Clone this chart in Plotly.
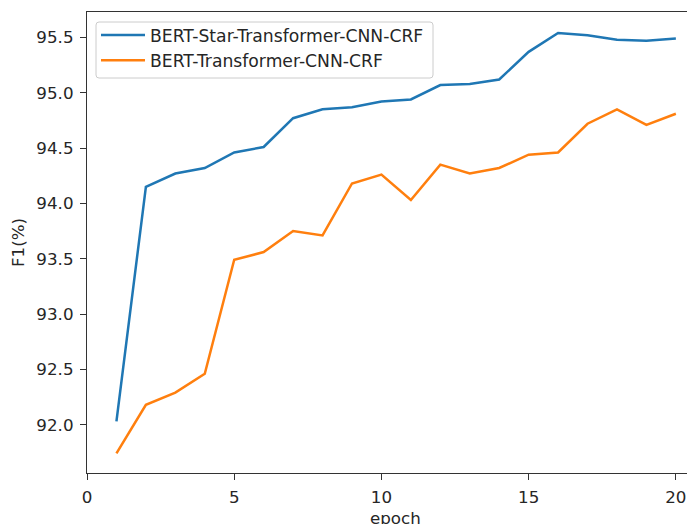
import plotly.graph_objects as go

epochs = list(range(1, 21))
star_f1 = [92.03, 94.15, 94.27, 94.32, 94.46, 94.51, 94.77, 94.85, 94.87, 94.92,
           94.94, 95.07, 95.08, 95.12, 95.37, 95.54, 95.52, 95.48, 95.47, 95.49]
base_f1 = [91.74, 92.18, 92.29, 92.46, 93.49, 93.56, 93.75, 93.71, 94.18, 94.26,
           94.03, 94.35, 94.27, 94.32, 94.44, 94.46, 94.72, 94.85, 94.71, 94.81]
series_names = ["BERT-Star-Transformer-CNN-CRF", "BERT-Transformer-CNN-CRF"]
x_ticks = [0, 5, 10, 15, 20]
y_ticks = [92.0, 92.5, 93.0, 93.5, 94.0, 94.5, 95.0, 95.5]

FONT = "DejaVu Sans"
FS = 16.7

# plot area in pixels (figure coordinates)
PL, PW, PT, PH = 79, 608, 4, 461

fig = go.Figure()
fig.add_trace(go.Scatter(x=epochs, y=star_f1, mode="lines", name=series_names[0],
                         line=dict(color="#1f77b4", width=2.5)))
fig.add_trace(go.Scatter(x=epochs, y=base_f1, mode="lines", name=series_names[1],
                         line=dict(color="#ff7f0e", width=2.5)))

# legend frame (rounded rectangle) in paper coords, from pixel box relative to plot area
bx0, bx1, by0, by1, r = 9, 346, 10, 66, 3
def px(v):
    return v / PW
def py(v):
    return 1 - v / PH
path = (f"M {px(bx0 + r)},{py(by0)} L {px(bx1 - r)},{py(by0)} "
        f"Q {px(bx1)},{py(by0)} {px(bx1)},{py(by0 + r)} "
        f"L {px(bx1)},{py(by1 - r)} Q {px(bx1)},{py(by1)} {px(bx1 - r)},{py(by1)} "
        f"L {px(bx0 + r)},{py(by1)} Q {px(bx0)},{py(by1)} {px(bx0)},{py(by1 - r)} "
        f"L {px(bx0)},{py(by0 + r)} Q {px(bx0)},{py(by0)} {px(bx0 + r)},{py(by0)} Z")
fig.add_shape(type="path", path=path, xref="paper", yref="paper",
              line=dict(color="#cccccc", width=1), fillcolor="rgba(255,255,255,0.8)",
              layer="above")

# page body has an 8px margin, so the figure is sized/offset to compensate
fig.update_layout(
    width=687, height=516,
    margin=dict(l=PL, r=0, t=PT, b=51, autoexpand=False),
    paper_bgcolor="white", plot_bgcolor="white",
    font=dict(family=FONT, size=FS, color="#262626"),
    showlegend=True,
    legend=dict(x=0.0148, y=0.9885, xanchor="left", yanchor="top",
                bgcolor="rgba(0,0,0,0)", borderwidth=0,
                itemwidth=44,
                font=dict(family=FONT, size=17.2, color="#262626")),
    xaxis=dict(range=[0, 20.65], tickvals=x_ticks, ticktext=[str(v) for v in x_ticks],
               showgrid=False, zeroline=False, showline=True, linecolor="#333333",
               linewidth=1.3, mirror=True, ticks="outside", ticklen=6, tickwidth=1.3,
               tickcolor="#333333", ticklabelstandoff=3, automargin=False),
    yaxis=dict(range=[91.563, 95.73], tickvals=y_ticks, ticktext=[f"{v:.1f}" for v in y_ticks],
               showgrid=False, zeroline=False, showline=True, linecolor="#333333",
               linewidth=1.3, ticks="outside", ticklen=6, tickwidth=1.3,
               tickcolor="#333333", ticklabelstandoff=3, automargin=False,
               title=dict(text="F1(%)", standoff=8, font=dict(family=FONT, size=FS))),
)

fig.add_annotation(text="epoch", x=10.475, xref="x", y=0, yref="paper",
                   yanchor="top", yshift=-33, showarrow=False,
                   font=dict(family=FONT, size=FS, color="#262626"))

fig.write_html("out.html")
